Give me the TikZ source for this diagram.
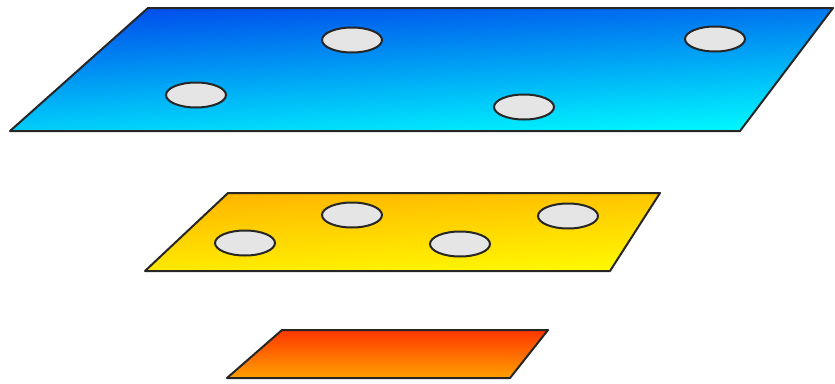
\documentclass[tikz,border=0pt]{standalone}
\begin{document}
\begin{tikzpicture}[x=1pt,y=-1pt,
  plane/.style={draw=black!85, line width=2pt, line join=round},
  hole/.style={draw=black!85, line width=2pt, fill=gray!20, x radius=30, y radius=12.5}]
\definecolor{blueA}{RGB}{0,75,235}
\definecolor{blueB}{RGB}{0,250,255}
\definecolor{yelA}{RGB}{255,180,0}
\definecolor{yelB}{RGB}{255,250,0}
\definecolor{redA}{RGB}{255,55,0}
\definecolor{redB}{RGB}{255,160,0}
\useasboundingbox (0,0) rectangle (835,383);
% top plane
\path[plane, top color=blueA, bottom color=blueB, shading angle=3]
  (148,8) coordinate (t1) -- (833,8) coordinate (t2) -- (740,131) coordinate (t3) -- (10,131) coordinate (t4) -- cycle;
\path[hole] (352,40) ellipse [];
\path[hole] (715,39) ellipse [];
\path[hole] (196,95) ellipse [];
\path[hole] (524,107) ellipse [];
% middle plane
\path[plane, top color=yelA, bottom color=yelB, shading angle=3]
  (228,193) coordinate (m1) -- (660,193) coordinate (m2) -- (610,271) coordinate (m3) -- (145,271) coordinate (m4) -- cycle;
\path[hole] (352,215) ellipse [];
\path[hole] (568,216) ellipse [];
\path[hole] (245,243) ellipse [];
\path[hole] (460,244) ellipse [];
% bottom plane
\path[plane, top color=redA, bottom color=redB]
  (282,330) coordinate (b1) -- (548,330) coordinate (b2) -- (510,378) coordinate (b3) -- (227,378) coordinate (b4) -- cycle;
\end{tikzpicture}
\end{document}
